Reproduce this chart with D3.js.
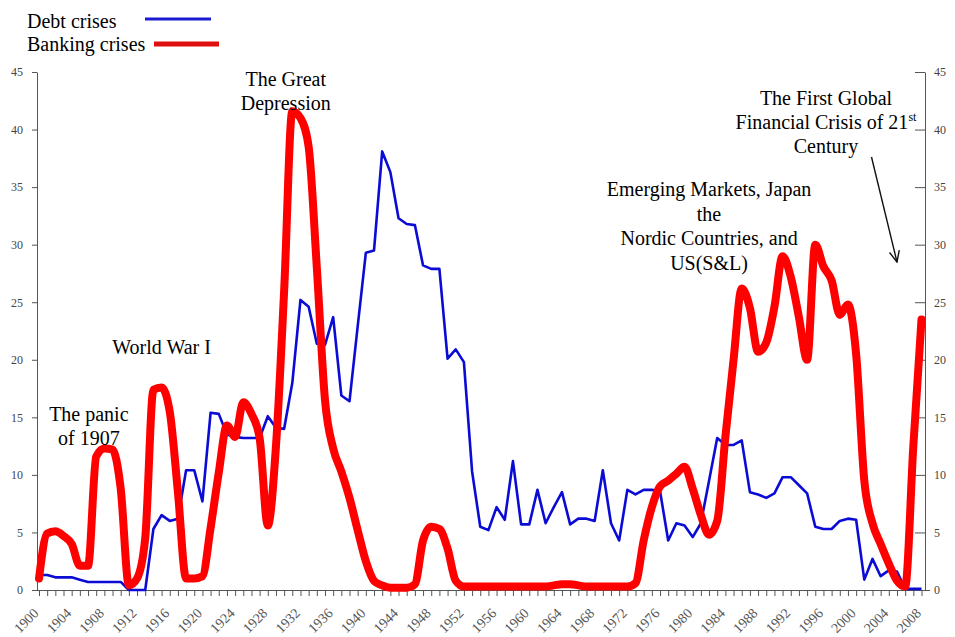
<!DOCTYPE html>
<html>
<head>
<meta charset="utf-8">
<script src="https://cdn.jsdelivr.net/npm/d3@7"></script>
<style>
  body { margin: 0; background: #fff; }
  text { font-family: "Liberation Serif", "Times New Roman", serif; }
</style>
</head>
<body>
<svg id="chart"></svg>
<script>
const width = 955;
const height = 637;

// years on the category axis
const years = d3.range(1900, 2009);

// share of countries in crisis (one value per year 1900-2008)
const debtCrises = [
  1.3, 1.3, 1.1, 1.1, 1.1, 0.9, 0.7, 0.7, 0.7, 0.7,
  0.7, 0, 0, 0, 5.3, 6.5, 6.0, 6.2, 10.4, 10.4,
  7.7, 15.4, 15.3, 13.5, 13.3, 13.2, 13.2, 13.2, 15.1, 14.1,
  14.0, 18.0, 25.2, 24.6, 21.4, 21.3, 23.7, 16.9, 16.4, 22.9,
  29.3, 29.5, 38.1, 36.3, 32.3, 31.8, 31.7, 28.2, 27.9, 27.9,
  20.1, 20.9, 19.8, 10.3, 5.5, 5.2, 7.2, 6.1, 11.2, 5.7,
  5.7, 8.7, 5.8, 7.2, 8.5, 5.7, 6.2, 6.2, 6.0, 10.4,
  5.8, 4.3, 8.7, 8.3, 8.7, 8.7, 8.6, 4.3, 5.8, 5.6,
  4.6, 5.8, 9.5, 13.2, 12.6, 12.6, 13.0, 8.5, 8.3, 8.0,
  8.4, 9.8, 9.8, 9.1, 8.4, 5.5, 5.3, 5.3, 6.0, 6.2,
  6.1, 0.9, 2.7, 1.2, 1.7, 1.6, 0.1, 0.1, 0.1
];

const bankingCrises = [
  1.0, 4.9, 5.1, 4.7, 4.0, 2.1, 2.1, 11.6, 12.3, 12.2,
  8.8, 0.4, 1.0, 4.5, 17.4, 17.6, 15.5, 8.5, 1.0, 1.0,
  1.2, 5.4, 10.2, 14.3, 13.3, 16.3, 15.3, 13.2, 5.6, 12.5,
  26.0, 41.6, 41.0, 38.5, 28.0, 16.5, 12.3, 10.3, 8.0, 5.2,
  2.5, 0.8, 0.4, 0.2, 0.2, 0.2, 0.5, 4.3, 5.5, 5.3,
  3.6, 0.8, 0.3, 0.3, 0.3, 0.3, 0.3, 0.3, 0.3, 0.3,
  0.3, 0.3, 0.3, 0.4, 0.5, 0.5, 0.4, 0.3, 0.3, 0.3,
  0.3, 0.3, 0.3, 0.6, 4.3, 7.2, 9.0, 9.5, 10.1, 10.7,
  8.8, 6.5, 4.8, 6.0, 13.3, 20.0, 26.2, 24.5, 20.7, 21.5,
  24.6, 29.0, 27.2, 23.7, 20.0, 30.0, 28.1, 26.9, 23.9, 24.8,
  20.5, 9.5, 5.8, 4.0, 2.3, 0.8, 0.3, 12.5, 23.5
];

const yTicks = [0, 5, 10, 15, 20, 25, 30, 35, 40, 45];

const legendLabels = ["Debt crises", "Banking crises"];

const notes = [
  { lines: ["The panic", "of 1907"], year: 1906.1, value: 14.7 },
  { lines: ["World War I"], year: 1915, value: 20.5 },
  { lines: ["The Great", "Depression"], year: 1930.2, value: 43.8 },
  { lines: ["Emerging Markets, Japan", "the", "Nordic Countries, and", "US(S&L)"], year: 1982, value: 34.2 }
];

let svg = d3.select("#chart")
  .attr("width", width)
  .attr("height", height);

const x = d3.scaleLinear().domain([1900, 2008]).range([39, 921.5]);
const y = d3.scaleLinear().domain([0, 45]).range([590, 72]);

const axisColor = "#555";
const labelColor = "#444";

// left axis
let left = svg.append("g")
  .attr("transform", "translate(37,0)")
  .call(d3.axisLeft(y).tickValues(yTicks).tickSize(5).tickPadding(9).tickSizeOuter(0));
left.select(".domain").attr("stroke", axisColor);
left.selectAll(".tick line").attr("stroke", axisColor);
left.selectAll(".tick text")
  .attr("fill", labelColor)
  .style("font-family", "Liberation Serif")
  .style("font-size", "12px");

// right axis, ticks pointing inwards
let right = svg.append("g")
  .attr("transform", "translate(925,0)")
  .call(d3.axisRight(y).tickValues(yTicks).tickSize(-10).tickPadding(9).tickSizeOuter(0));
right.select(".domain").attr("stroke", axisColor);
right.selectAll(".tick line").attr("stroke", axisColor);
right.selectAll(".tick text")
  .attr("fill", labelColor)
  .style("font-family", "Liberation Serif")
  .style("font-size", "12px");

// bottom axis, a tick every year, a label every four
let bottom = svg.append("g")
  .attr("transform", "translate(0,590)")
  .call(d3.axisBottom(x)
    .tickValues(years)
    .tickFormat(d => d % 4 === 0 ? d : "")
    .tickSize(6)
    .tickSizeOuter(0));
bottom.select(".domain").remove();
bottom.append("line")
  .attr("x1", 37).attr("x2", 930)
  .attr("y1", 0.5).attr("y2", 0.5)
  .attr("stroke", axisColor);
bottom.selectAll(".tick line").attr("stroke", axisColor);
bottom.selectAll(".tick text")
  .attr("fill", "#555")
  .style("font-family", "Liberation Serif")
  .style("font-size", "14px")
  .attr("text-anchor", "end")
  .attr("dy", null)
  .attr("y", null)
  .attr("transform", "translate(0,24) rotate(-45)");

// series lines
const debtLine = d3.line()
  .x((d, i) => x(years[i]))
  .y(d => y(d));

const bankLine = d3.line()
  .x((d, i) => x(years[i]))
  .y(d => y(d))
  .curve(d3.curveMonotoneX);

svg.append("path")
  .attr("d", debtLine(debtCrises))
  .attr("fill", "none")
  .attr("stroke", "#0b0bd6")
  .attr("stroke-width", 2.6)
  .attr("stroke-linejoin", "round");

svg.append("path")
  .attr("d", bankLine(bankingCrises))
  .attr("fill", "none")
  .attr("stroke", "#ff0000")
  .attr("stroke-width", 8)
  .attr("stroke-linejoin", "round")
  .attr("stroke-linecap", "round");

// legend
let legend = svg.append("g");
legend.append("text")
  .attr("x", 27).attr("y", 28)
  .style("font-size", "20px")
  .text(legendLabels[0]);
legend.append("line")
  .attr("x1", 145).attr("x2", 211)
  .attr("y1", 19).attr("y2", 19)
  .attr("stroke", "#1a1ad0")
  .attr("stroke-width", 3);
legend.append("text")
  .attr("x", 27).attr("y", 51)
  .style("font-size", "20px")
  .text(legendLabels[1]);
legend.append("line")
  .attr("x1", 154).attr("x2", 219)
  .attr("y1", 44).attr("y2", 44)
  .attr("stroke", "#e01010")
  .attr("stroke-width", 5);

// annotations
notes.forEach(n => {
  let t = svg.append("text")
    .attr("text-anchor", "middle")
    .style("font-size", "20px");
  n.lines.forEach((line, i) => {
    t.append("tspan")
      .attr("x", x(n.year))
      .attr("y", y(n.value) + i * 24.4)
      .text(line);
  });
});

// the 2008 note has a superscript and an arrow
let gfc = svg.append("text")
  .attr("text-anchor", "middle")
  .style("font-size", "20px");
gfc.append("tspan").attr("x", 826).attr("y", 105).text("The First Global");
gfc.append("tspan").attr("x", 826).attr("y", 129).text("Financial Crisis of 21");
gfc.append("tspan").attr("dy", -8).style("font-size", "12px").text("st");
gfc.append("tspan").attr("x", 826).attr("y", 153).text("Century");

svg.append("defs").append("marker")
  .attr("id", "head")
  .attr("viewBox", "0 0 12 12")
  .attr("refX", 11).attr("refY", 6)
  .attr("markerWidth", 12).attr("markerHeight", 12)
  .attr("markerUnits", "userSpaceOnUse")
  .attr("orient", "auto")
  .append("path")
  .attr("d", "M0,1 L11,6 L0,11")
  .attr("fill", "none")
  .attr("stroke", "#111")
  .attr("stroke-width", 1.4);

svg.append("line")
  .attr("x1", 871.5).attr("y1", 157)
  .attr("x2", 897).attr("y2", 262)
  .attr("stroke", "#111")
  .attr("stroke-width", 1.4)
  .attr("marker-end", "url(#head)");
</script>
</body>
</html>
